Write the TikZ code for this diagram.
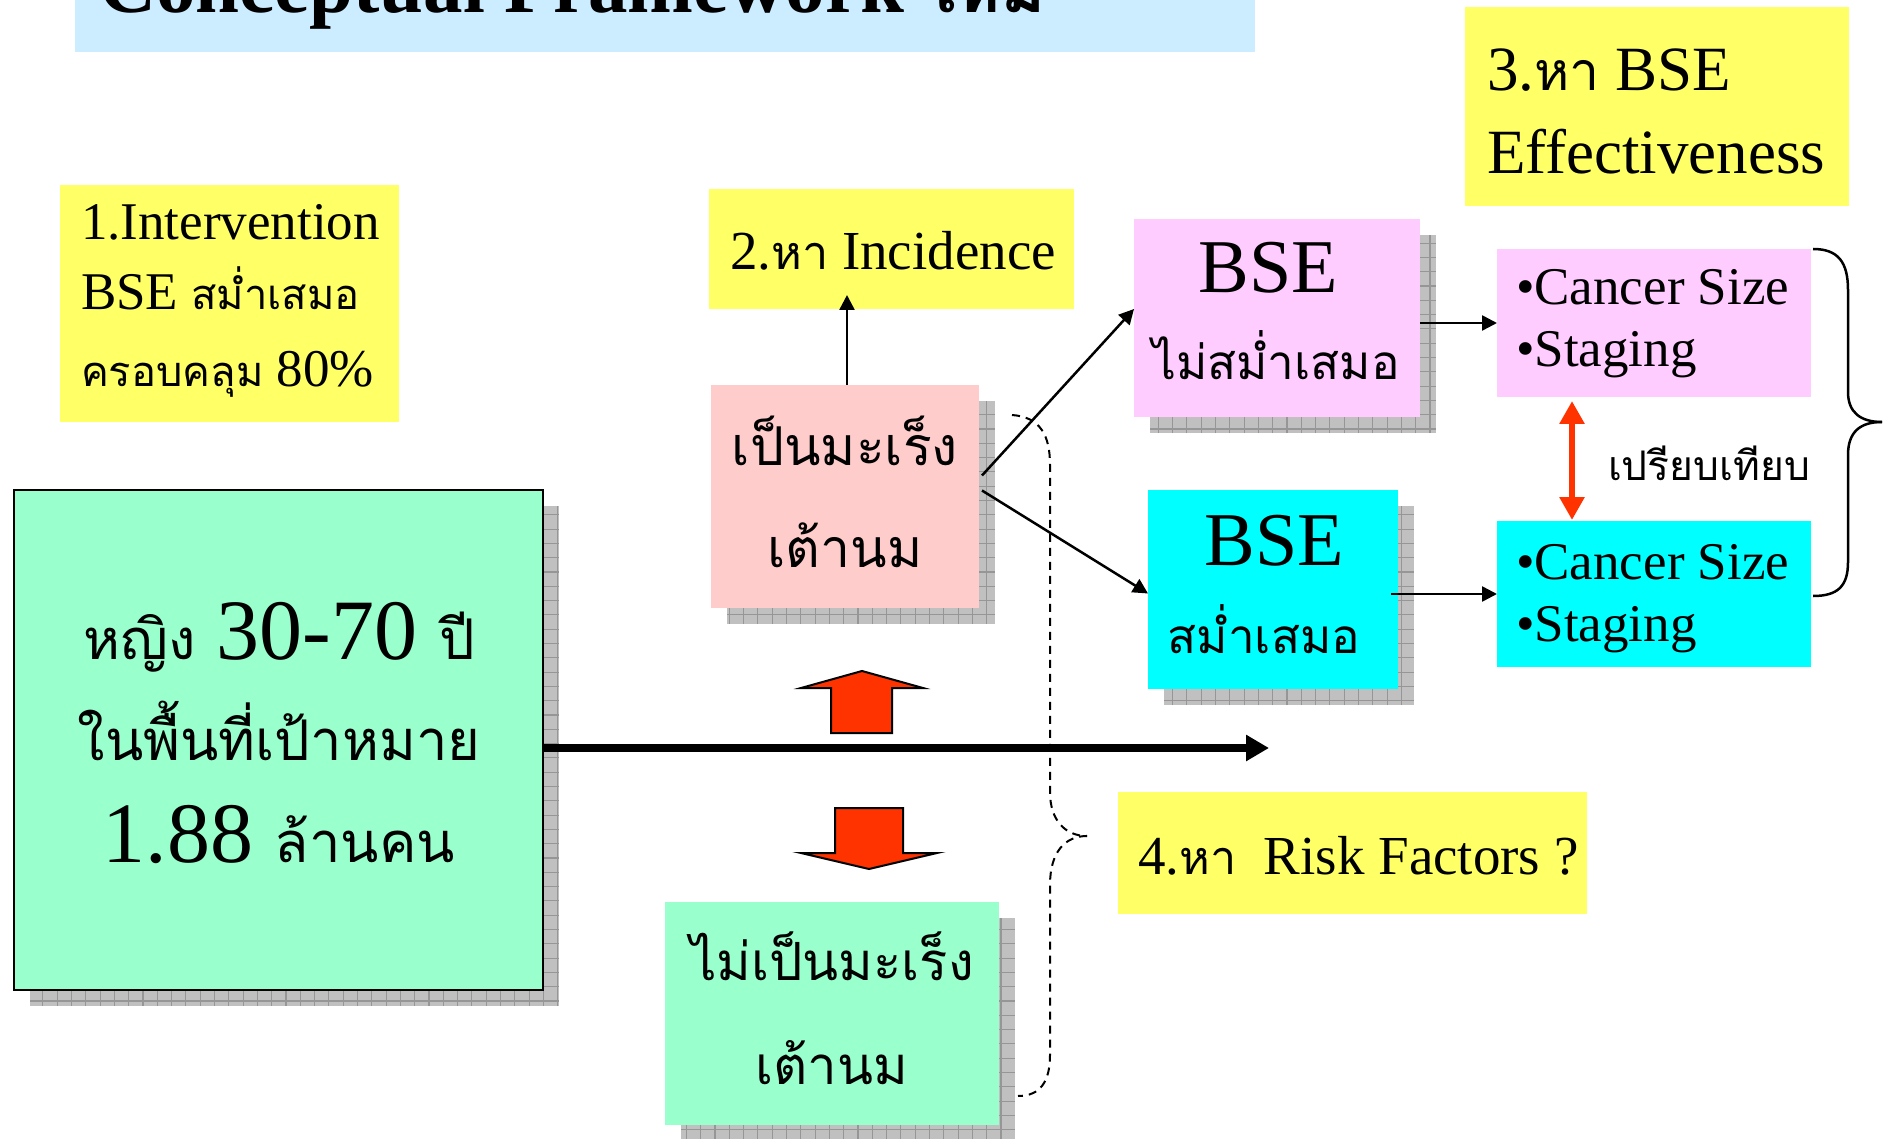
\documentclass[tikz,border=0pt]{standalone}
\usepackage{fontspec}
\setmainfont{Liberation Serif}
\newfontfamily\thaifont[Script=Thai,Scale=0.85]{Loma}
\newcommand{\tht}[1]{{\thaifont #1}}
\newcommand{\thx}[2]{{\fontsize{#1}{#1}\selectfont\thaifont #2}}
\usetikzlibrary{arrows.meta,fit,calc}
\definecolor{titleblue}{RGB}{204,236,255}
\definecolor{yel}{RGB}{255,255,102}
\definecolor{mint}{RGB}{153,255,204}
\definecolor{rose}{RGB}{255,204,204}
\definecolor{lilac}{RGB}{255,204,255}
\definecolor{aqua}{RGB}{0,255,255}
\definecolor{redorange}{RGB}{255,51,0}
\definecolor{shadowgray}{RGB}{192,192,192}
\definecolor{gridgray}{RGB}{150,150,150}
\newcommand{\gridshadow}[4]{%
  \begin{scope}
    \clip (#1,#2) rectangle (#3,#4);
    \fill[shadowgray] (#1,#2) rectangle (#3,#4);
    \draw[gridgray, line width=1.1pt, step=14.3pt] (#1,#2) grid (#3,#4);
  \end{scope}}
\tikzset{
  plainbox/.style={inner sep=0pt, outer sep=0pt, draw=none},
  txt/.style={inner sep=0pt, outer sep=0pt, anchor=base west},
  ctxt/.style={inner sep=0pt, outer sep=0pt, anchor=base},
  thinarrow/.style={line width=2.5pt, -{Triangle[length=15pt,width=15pt]}},
  blockarrow/.style={fill=redorange, draw=black, line width=2pt, line join=miter},
  bracestyle/.style={line width=2.5pt},
  dashbrace/.style={line width=2pt, dash pattern=on 8pt off 6pt},
  f53/.style={font=\fontsize{53}{64}\selectfont},
}
\begin{document}
\begin{tikzpicture}[x=1pt,y=-1pt]
\useasboundingbox (0,0) rectangle (1885,1139);
\begin{scope}
\clip (0,0) rectangle (1885,1139);
% title
\node[plainbox, fill=titleblue, fit={(75,-10) (1255,52)}] (titlebox) {};
\node[txt, font=\fontsize{79}{84}\selectfont\bfseries] (title) at (99,13) {Conceptual Framework \tht{ใหม่}};

% yellow boxes
\node[plainbox, fill=yel, fit={(60,185) (399,422)}] (interv) {};
\node[plainbox, fill=yel, fit={(709,189) (1074,309)}] (incid) {};
\node[plainbox, fill=yel, fit={(1465,7) (1849,206)}] (effect) {};
\node[plainbox, fill=yel, fit={(1118,792) (1587,914)}] (risk) {};

% shadows
\gridshadow{30}{506}{559}{1006}
\gridshadow{727}{401}{995}{624}
\gridshadow{681}{918}{1015}{1141}
\gridshadow{1150}{235}{1436}{433}
\gridshadow{1164}{506}{1414}{705}

% main boxes
\node[plainbox, fill=mint, draw=black, line width=2.5pt, fit={(14,490) (543,990)}] (women) {};
\node[plainbox, fill=rose, fit={(711,385) (979,608)}] (cancer) {};
\node[plainbox, fill=mint, fit={(665,902) (999,1125)}] (nocancer) {};
\node[plainbox, fill=lilac, fit={(1134,219) (1420,417)}] (bseno) {};
\node[plainbox, fill=aqua, fit={(1148,490) (1398,689)}] (bseyes) {};
\node[plainbox, fill=lilac, fit={(1497,249) (1811,397)}] (sizeno) {};
\node[plainbox, fill=aqua, fit={(1497,521) (1811,667)}] (sizeyes) {};

% texts
\node[txt, f53] (t1a) at (81,240) {1.Intervention};
\node[txt, f53] (t1b) at (81,310) {BSE \thx{49}{สม่ำเสมอ}};
\node[txt, f53] (t1c) at (81,387) {\thx{49}{ครอบคลุม} 80\%};
\node[txt, font=\fontsize{55}{66}\selectfont] (t2) at (730,270) {2.\tht{หา} Incidence};
\node[txt, font=\fontsize{63}{70}\selectfont] (t3a) at (1487,91) {3.\tht{หา} BSE};
\node[txt, font=\fontsize{63}{70}\selectfont] (t3b) at (1487,174) {Effectiveness};
\node[txt, font=\fontsize{55}{66}\selectfont] (t4) at (1138,874) {4.\tht{หา}\ \ Risk Factors ?};

\node[ctxt, font=\fontsize{86}{90}\selectfont] (w1) at (279,659) {\thx{66}{หญิง} 30-70 \thx{66}{ปี}};
\node[ctxt, font=\fontsize{86}{90}\selectfont] (w2) at (279,760) {\thx{66}{ในพื้นที่เป้าหมาย}};
\node[ctxt, font=\fontsize{86}{90}\selectfont] (w3) at (279,862) {1.88 \thx{66}{ล้านคน}};

\node[ctxt, font=\fontsize{63}{70}\selectfont] (c1) at (845,465) {\tht{เป็นมะเร็ง}};
\node[ctxt, font=\fontsize{63}{70}\selectfont] (c2) at (845,567) {\tht{เต้านม}};
\node[ctxt, font=\fontsize{62}{70}\selectfont] (n1) at (832,980) {\tht{ไม่เป็นมะเร็ง}};
\node[ctxt, font=\fontsize{62}{70}\selectfont] (n2) at (832,1084) {\tht{เต้านม}};

\node[ctxt, font=\fontsize{76}{80}\selectfont] (b1) at (1268,293) {BSE};
\node[ctxt, font=\fontsize{56}{80}\selectfont] (b2) at (1276,380) {\tht{ไม่สม่ำเสมอ}};
\node[ctxt, font=\fontsize{76}{80}\selectfont] (b3) at (1274,565) {BSE};
\node[ctxt, font=\fontsize{56}{80}\selectfont] (b4) at (1264,653) {\tht{สม่ำเสมอ}};

\node[txt, f53] (s1) at (1516,305) {•Cancer Size};
\node[txt, f53] (s2) at (1516,367) {•Staging};
\node[txt, f53] (s3) at (1516,579) {•Cancer Size};
\node[txt, f53] (s4) at (1516,641) {•Staging};

\node[txt, font=\fontsize{48}{55}\selectfont] (cmp) at (1608,480) {\tht{เปรียบเทียบ}};

% connectors
\coordinate (arrowend) at (1269,748);
\draw[line width=8pt, -{Triangle[length=23pt,width=25pt]}] ($(women.east)+(0,8)$) -- (arrowend);
\draw[thinarrow] ($(cancer.north)+(2,0)$) -- ($(cancer.north |- incid.south)+(2,-14)$);
\draw[thinarrow] ($(cancer.east)+(3,-21)$) -- ($(bseno.west)+(0,-9)$);
\draw[thinarrow] ($(cancer.east)+(3,-6)$) -- ($(bseyes.west)+(0,4)$);
\draw[thinarrow] (bseno.east |- sizeno.west) -- (sizeno.west);
\draw[thinarrow] ($(bseyes.east |- sizeyes.west)+(-7,0)$) -- (sizeyes.west);
\draw[redorange, line width=6pt, {Triangle[length=23pt,width=24pt]}-{Triangle[length=23pt,width=24pt]}]
  ($(sizeno.south)+(-82,4)$) -- ($(sizeyes.north)+(-82,-1)$);

% block arrows
\draw[blockarrow] (862,671) -- (923,688) -- (892,688) -- (892,733) -- (831,733) -- (831,688) -- (801,688) -- cycle;
\draw[blockarrow] (835,808) -- (903,808) -- (903,853) -- (937,853) -- (869,869) -- (801,853) -- (835,853) -- cycle;

% braces
\draw[dashbrace] (1012,415) .. controls (1040,417) and (1050,435) .. (1050,465) -- (1050,792)
  .. controls (1050,820) and (1065,836) .. (1087,836);
\draw[dashbrace] (1087,836) .. controls (1065,836) and (1050,852) .. (1050,885) -- (1050,1055)
  .. controls (1050,1082) and (1040,1096) .. (1018,1096);
\draw[bracestyle] (1813,249) .. controls (1838,249) and (1848,262) .. (1848,290) -- (1848,392)
  .. controls (1848,412) and (1860,422) .. (1882,422);
\draw[bracestyle] (1882,422) .. controls (1860,422) and (1848,432) .. (1848,455) -- (1848,562)
  .. controls (1848,586) and (1838,596) .. (1813,596);
\end{scope}
\end{tikzpicture}
\end{document}
